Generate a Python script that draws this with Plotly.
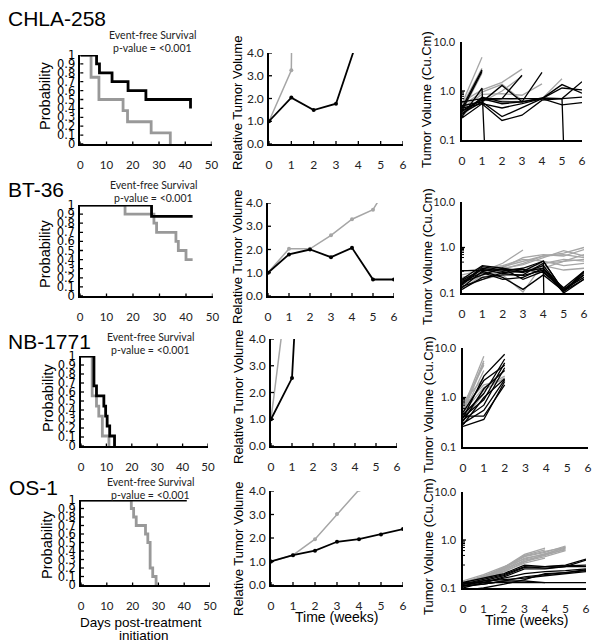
import math
import plotly.graph_objects as go

W, H = 608, 644

models = ["CHLA-258", "BT-36", "NB-1771", "OS-1"]

# ---------------- Kaplan-Meier event-free survival (days, probability) ----------------
chla_km_ctrl_t = [0, 4.1, 7.1, 16.3, 18.0, 27.0, 34.3]
chla_km_ctrl_p = [1, 0.75, 0.5, 0.375, 0.25, 0.125, 0]
chla_km_trt_t = [0, 6.2, 7.3, 12.1, 18.2, 25.0, 42.0]
chla_km_trt_p = [1, 0.9, 0.8, 0.7, 0.6, 0.5, 0.4]

bt_km_ctrl_t = [0, 17.0, 27.9, 28.9, 36.2, 37.1, 40.0, 42.5]
bt_km_ctrl_p = [1, 0.9, 0.8, 0.7, 0.6, 0.5, 0.4, 0.4]
bt_km_trt_t = [0, 27.0, 42.5]
bt_km_trt_p = [1, 0.875, 0.875]

nb_km_ctrl_t = [0, 4.4, 6.1, 7.0, 8.4, 11.0]
nb_km_ctrl_p = [1, 0.556, 0.444, 0.333, 0.111, 0]
nb_km_trt_t = [0, 5.1, 6.1, 9.0, 9.7, 10.3, 11.3, 13.2]
nb_km_trt_p = [1, 0.667, 0.556, 0.444, 0.333, 0.222, 0.111, 0]

os_km_ctrl_t = [0, 19.5, 20.4, 21.4, 25.0, 25.9, 26.8, 27.8, 29.1]
os_km_ctrl_p = [1, 0.9, 0.8, 0.7, 0.6, 0.5, 0.2, 0.1, 0]
os_km_trt_t = [0, 41.0]
os_km_trt_p = [1, 1]

# ---------------- Relative tumor volume (weeks) ----------------
weeks = [0, 1, 2, 3, 4, 5, 6]
chla_rtv_ctrl = [1.0, 3.24, 100.0]
chla_rtv_trt = [1.0, 2.04, 1.49, 1.77, 4.7]
bt_rtv_ctrl = [1.0, 2.03, 2.03, 2.61, 3.30, 3.71, 5.2]
bt_rtv_trt = [1.0, 1.79, 2.00, 1.67, 2.07, 0.71, 0.71]
nb_rtv_ctrl = [1.0, 7.25]
nb_rtv_trt = [1.0, 2.54, 17.0]
os_rtv_ctrl = [1.0, 1.27, 1.95, 3.02, 4.05]
os_rtv_trt = [1.0, 1.27, 1.46, 1.84, 1.95, 2.15, 2.38]

# ---------------- Individual tumor volumes (Cu.Cm) ----------------
chla_vol_ctrl = [
    [0.55, 4.9], [0.5, 2.9], [0.42, 2.6], [0.38, 2.3],
    [0.6, 1.05, 1.5, 2.8], [0.5, 0.95, 1.37, 0.65],
    [0.45, 0.85, 0.88, 0.82, 1.4], [0.48, 0.65, 0.6, 0.62, 0.7, 1.78],
    [0.35, 0.6, 1.0, 2.0], [0.3, 0.75, 0.65, 0.7],
]
chla_vol_trt = [
    [0.3, 1.15, 1e-9], [0.35, 0.6, 1.3, 0.6, 2.4], [0.4, 0.65, 0.7, 2.1],
    [0.45, 0.55, 0.45, 0.55, 0.7, 1.35, 0.9], [0.5, 0.6, 0.3, 0.45, 0.7, 1.15, 1.05],
    [0.28, 0.55, 0.25, 0.32, 0.65, 0.7, 0.75], [0.6, 0.7, 0.7, 0.7, 0.7, 0.7, 1e-12],
    [0.33, 0.75, 0.6, 0.6, 0.7, 0.52, 0.58], [0.38, 0.7, 0.55, 0.6, 0.72, 0.7, 1.55],
    [0.45, 2.7], [0.4, 2.5],
]
bt_vol_ctrl = [
    [0.2, 0.3, 0.45, 0.88], [0.25, 0.32, 0.38, 0.5, 0.65, 0.75, 1.0],
    [0.22, 0.28, 0.35, 0.42, 0.6, 0.85, 0.65], [0.18, 0.3, 0.33, 0.45, 0.65, 0.7, 0.6],
    [0.15, 0.25, 0.3, 0.35, 0.45, 0.55, 0.5], [0.3, 0.35, 0.4, 0.55, 0.5, 0.4, 0.45],
    [0.13, 0.2, 0.25, 0.105, 0.45, 0.5, 0.55], [0.12, 0.25, 0.3, 0.32, 0.4, 0.32, 0.35],
    [0.2, 0.22, 0.3, 0.3, 0.35, 0.5, 0.7], [0.16, 0.26, 0.36, 0.6, 0.7, 0.65, 0.9],
]
bt_vol_trt = [
    [0.2, 0.4, 0.35, 0.3, 0.5, 0.11, 0.3], [0.15, 0.35, 0.3, 0.35, 0.5, 0.11, 0.25],
    [0.17, 0.25, 0.35, 0.2, 0.3, 0.11, 0.2], [0.13, 0.3, 0.22, 0.12, 0.25, 0.11, 0.28],
    [0.31, 0.31, 0.33, 0.33, 0.28, 0.12, 0.22], [0.12, 0.22, 0.25, 0.25, 0.45, 1e-30],
    [0.18, 0.28, 0.2, 0.22, 0.35, 0.12, 0.25], [0.16, 0.38, 0.32, 0.28, 0.4, 0.11],
    [0.14, 0.2, 0.28, 0.3, 0.35, 0.1, 0.2], [0.19, 0.33, 0.27, 0.24, 0.32, 0.13, 0.3],
]
nb_vol_ctrl = [
    [0.6, 6.8], [0.55, 5.5], [0.5, 5.0], [0.7, 4.5], [0.45, 3.5], [0.8, 2.5],
    [0.5, 1.6, 2.7], [0.4, 1.4, 2.5], [0.65, 1.8, 2.3], [0.35, 1.2],
]
nb_vol_trt = [
    [0.42, 0.42, 1.8], [0.26, 0.36, 2.1], [0.3, 0.55, 2.3], [0.35, 0.7, 4.0],
    [0.4, 0.9, 5.0], [0.45, 1.2, 6.0], [0.38, 2.7, 7.5], [0.5, 2.2, 4.5],
    [0.33, 1.5, 3.5], [0.28, 1.0, 2.4],
]
os_vol_ctrl = [
    [0.13, 0.17, 0.27, 0.5, 0.68], [0.12, 0.16, 0.25, 0.48, 0.62],
    [0.13, 0.18, 0.26, 0.45, 0.55, 0.75], [0.12, 0.17, 0.24, 0.42, 0.5, 0.72],
    [0.14, 0.19, 0.28, 0.4, 0.52, 0.68], [0.12, 0.16, 0.23, 0.38, 0.48, 0.65],
    [0.13, 0.17, 0.25, 0.36, 0.45, 0.6], [0.12, 0.18, 0.22, 0.35, 0.5, 0.62],
    [0.11, 0.15, 0.22, 0.33, 0.42], [0.13, 0.16, 0.27, 0.46, 0.58, 0.7],
]
os_vol_trt = [
    [0.13, 0.16, 0.2, 0.3, 0.28, 0.3, 0.4], [0.12, 0.15, 0.19, 0.28, 0.26, 0.28, 0.38],
    [0.11, 0.14, 0.18, 0.27, 0.28, 0.29, 0.3], [0.12, 0.13, 0.17, 0.25, 0.25, 0.28, 0.28],
    [0.1, 0.13, 0.16, 0.2, 0.22, 0.23, 0.25], [0.11, 0.12, 0.14, 0.17, 0.19, 0.21, 0.23],
    [0.12, 0.14, 0.15, 0.16, 0.18, 0.2, 0.22], [0.13, 0.13, 0.13, 0.13, 0.13, 0.13, 0.13],
    [0.09, 0.1, 0.12, 0.15, 0.2, 0.21, 0.24], [0.11, 0.12, 0.14, 0.14, 0.13],
]

km_xticks = [0, 10, 20, 30, 40, 50]
km_yticks = [0, 0.1, 0.2, 0.3, 0.4, 0.5, 0.6, 0.7, 0.8, 0.9, 1]
km_yticktext = ["0", "0.1", "0.2", "0.3", "0.4", "0.5", "0.6", "0.7", "0.8", "0.9", "1"]
rtv_yticks = [0, 1, 2, 3, 4]
week_ticks = [0, 1, 2, 3, 4, 5, 6]
vol_yticks = [0.1, 1, 10]
vol_yticktext = ["0.1", "1.0", "10.0"]
vol_minor = [m * d for d in (0.1, 1) for m in range(2, 10)]

km_data = [
    (chla_km_ctrl_t, chla_km_ctrl_p, chla_km_trt_t, chla_km_trt_p),
    (bt_km_ctrl_t, bt_km_ctrl_p, bt_km_trt_t, bt_km_trt_p),
    (nb_km_ctrl_t, nb_km_ctrl_p, nb_km_trt_t, nb_km_trt_p),
    (os_km_ctrl_t, os_km_ctrl_p, os_km_trt_t, os_km_trt_p),
]
rtv_data = [
    (chla_rtv_ctrl, chla_rtv_trt), (bt_rtv_ctrl, bt_rtv_trt),
    (nb_rtv_ctrl, nb_rtv_trt), (os_rtv_ctrl, os_rtv_trt),
]
vol_data = [
    (chla_vol_ctrl, chla_vol_trt), (bt_vol_ctrl, bt_vol_trt),
    (nb_vol_ctrl, nb_vol_trt), (os_vol_ctrl, os_vol_trt),
]

# ---------------- layout boxes (pixels: left, right, top, bottom) ----------------
boxes = {
    (0, 0): (80.3, 211.5, 55, 144), (1, 0): (80, 212.5, 205, 296),
    (2, 0): (81, 208, 356, 446), (3, 0): (81, 210, 500, 585),
    (0, 1): (269, 403, 53, 144), (1, 1): (268, 394, 203, 296),
    (2, 1): (271, 397, 339, 446), (3, 1): (271, 403, 491, 585),
    (0, 2): (462, 582, 42, 140), (1, 2): (462, 584, 202, 293),
    (2, 2): (463, 588, 348, 447), (3, 2): (463, 586, 492, 588),
}

GRAY_KM = "#999999"
GRAY = "#a6a6a6"
ARIAL = "Liberation Sans, Arial, sans-serif"
CAL = "Lato, Carlito, sans-serif"

fig = go.Figure()
layout = {}
shapes = []
annotations = []


def px_x(p):
    return p / W


def px_y(p):
    return 1 - p / H


def ax_names(k):
    s = "" if k == 1 else str(k)
    return "x" + s, "y" + s, "xaxis" + s, "yaxis" + s


def add_ticks(xr, yr, xvals, yvals, ybase, log, half=3, yhalf=3, minor=None):
    for v in xvals:
        shapes.append(dict(type="line", xref=xr, yref=yr, x0=v, x1=v,
                           ysizemode="pixel", yanchor=ybase, y0=-half, y1=half,
                           line=dict(color="black", width=1.3)))
    for v in yvals:
        yv = math.log10(v) if log else v
        shapes.append(dict(type="line", xref=xr, yref=yr, y0=yv, y1=yv,
                           xsizemode="pixel", xanchor=0, x0=-yhalf, x1=yhalf,
                           line=dict(color="black", width=1.3)))
    if minor:
        for v in minor:
            yv = math.log10(v)
            shapes.append(dict(type="line", xref=xr, yref=yr, y0=yv, y1=yv,
                               xsizemode="pixel", xanchor=0, x0=-2, x1=2,
                               line=dict(color="black", width=1)))


for r in range(4):
    for c in range(3):
        k = r * 3 + c + 1
        xr, yr, xa, ya = ax_names(k)
        l, rt, tp, bt = boxes[(r, c)]
        xdom = [px_x(l), px_x(rt)]
        ydom = [px_y(bt), px_y(tp)]
        common = dict(showline=True, linecolor="black", linewidth=1.5, ticks="",
                      showgrid=False, zeroline=False, fixedrange=True,
                      automargin=False)
        if c == 0:
            ct, cp, tt, tpv = km_data[r]
            fig.add_trace(go.Scatter(x=ct, y=cp, mode="lines", line_shape="hv",
                                     line=dict(color=GRAY_KM, width=2.8),
                                     xaxis=xr, yaxis=yr, showlegend=False))
            fig.add_trace(go.Scatter(x=tt, y=tpv, mode="lines", line_shape="hv",
                                     line=dict(color="black", width=2.8),
                                     xaxis=xr, yaxis=yr, showlegend=False))
            layout[xa] = dict(common, domain=xdom, anchor=yr, range=[0, 50],
                              tickvals=km_xticks, ticklabelstandoff=9,
                              tickfont=dict(family=CAL, size=11.5, color="#222"))
            layout[ya] = dict(common, domain=ydom, anchor=xr, range=[0, 1],
                              tickvals=km_yticks, ticktext=km_yticktext,
                              ticklabelstandoff=1,
                              tickfont=dict(family="DejaVu Sans", size=11.5, color="black"))
            add_ticks(xr, yr, km_xticks, km_yticks, 0, False, half=2.5, yhalf=3)
        elif c == 1:
            cv, tv = rtv_data[r]
            fig.add_trace(go.Scatter(x=weeks[:len(cv)], y=cv, mode="lines+markers",
                                     line=dict(color=GRAY, width=1.5),
                                     marker=dict(color=GRAY, size=4),
                                     xaxis=xr, yaxis=yr, showlegend=False))
            fig.add_trace(go.Scatter(x=weeks[:len(tv)], y=tv, mode="lines+markers",
                                     line=dict(color="black", width=1.8),
                                     marker=dict(color="black", size=4),
                                     xaxis=xr, yaxis=yr, showlegend=False))
            layout[xa] = dict(common, domain=xdom, anchor=yr, range=[0, 6],
                              tickvals=week_ticks, ticklabelstandoff=9,
                              tickfont=dict(family=CAL, size=12, color="#222"))
            layout[ya] = dict(common, domain=ydom, anchor=xr, range=[0, 4],
                              tickvals=rtv_yticks, tickformat=".1f",
                              ticklabelstandoff=1,
                              tickfont=dict(family=CAL, size=12, color="#222"))
            add_ticks(xr, yr, week_ticks, rtv_yticks, 0, False, half=3, yhalf=3)
        else:
            cl, tl = vol_data[r]
            for series in cl:
                fig.add_trace(go.Scatter(x=weeks[:len(series)], y=series, mode="lines",
                                         line=dict(color=GRAY, width=1.3),
                                         xaxis=xr, yaxis=yr, showlegend=False))
            for series in tl:
                fig.add_trace(go.Scatter(x=weeks[:len(series)], y=series, mode="lines",
                                         line=dict(color="black", width=1.3),
                                         xaxis=xr, yaxis=yr, showlegend=False))
            layout[xa] = dict(common, domain=xdom, anchor=yr, range=[0, 6],
                              tickvals=week_ticks, ticklabelstandoff=9,
                              tickfont=dict(family=CAL, size=12, color="#222"))
            layout[ya] = dict(common, domain=ydom, anchor=xr, type="log", range=[-1, 1],
                              tickvals=vol_yticks, ticktext=vol_yticktext,
                              ticklabelstandoff=3,
                              tickfont=dict(family=CAL, size=11, color="#222"))
            add_ticks(xr, yr, week_ticks, vol_yticks, -1, True, half=3, yhalf=3,
                      minor=vol_minor)


def text(x, y, s, size, family=ARIAL, angle=0, color="black", xanchor="center"):
    annotations.append(dict(x=px_x(x), y=px_y(y), xref="paper", yref="paper",
                            text=s, showarrow=False, textangle=angle,
                            xanchor=xanchor, yanchor="middle",
                            font=dict(family=family, size=size, color=color)))


# model names
title_pos = [(6, 18), (6, 190), (6, 342), (7, 487)]
for name, (x, y) in zip(models, title_pos):
    text(x, y, name, 21, xanchor="left")

# event-free survival captions
cap_pos = [(152, 35, 48), (153, 185, 198), (150, 337, 350), (150, 482, 495)]
for x, y1, y2 in cap_pos:
    text(x, y1, "Event-free Survival", 10.5, family=CAL, color="#222")
    text(x, y2, "p-value = <0.001", 10.5, family=CAL, color="#222")

# axis titles
prob_pos = [(45, 96), (45, 254), (48, 398), (47, 545)]
for x, y in prob_pos:
    text(x, y, "Probability", 14.5, angle=-90)
rtv_pos = [(237, 103), (237, 257), (238, 397), (238, 549)]
for x, y in rtv_pos:
    text(x, y, "Relative Tumor Volume", 13, angle=-90)
vol_pos = [(427, 100), (427, 257), (428, 405), (428, 547)]
for x, y in vol_pos:
    text(x, y, "Tumor Volume (Cu.Cm)", 13, angle=-90)

text(141, 622, "Days post-treatment", 13.5)
text(144, 635, "initiation", 13.5)
text(337, 617, "Time (weeks)", 14)
text(527, 620, "Time (weeks)", 14)

fig.update_layout(
    width=W, height=H, margin=dict(l=0, r=0, t=0, b=0, autoexpand=False),
    paper_bgcolor="white", plot_bgcolor="white",
    showlegend=False, shapes=shapes, annotations=annotations,
    **layout,
)
fig.write_html("out.html", config={"displayModeBar": False},
               post_script="document.body.style.margin='0';document.body.style.padding='0';")
